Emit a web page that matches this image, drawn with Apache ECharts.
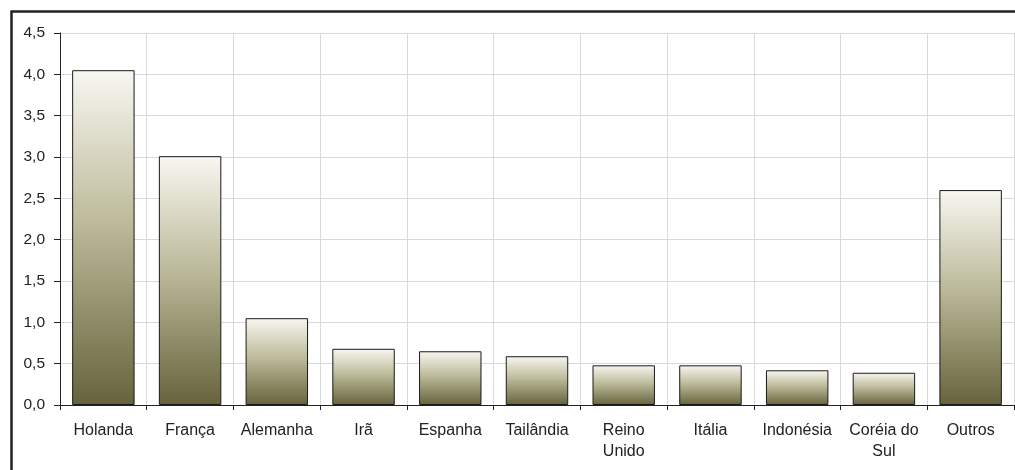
<!DOCTYPE html>
<html><head><meta charset="utf-8">
<script src="https://cdn.jsdelivr.net/npm/echarts@6/dist/echarts.min.js"></script>
<style>html,body{margin:0;padding:0;background:#fff}#c{width:1015px;height:470px}</style>
</head><body><div id="c"></div>
<script>
const categories = ['Holanda','França','Alemanha','Irã','Espanha','Tailândia','Reino\nUnido','Itália','Indonésia','Coréia do\nSul','Outros'];
const values = [4.05, 3.01, 1.05, 0.68, 0.65, 0.59, 0.48, 0.48, 0.42, 0.39, 2.60];
const yTicks = ['0,0','0,5','1,0','1,5','2,0','2,5','3,0','3,5','4,0','4,5'];

const chart = echarts.init(document.getElementById('c'), null, {renderer:'canvas'});
chart.setOption({
  animation:false,
  backgroundColor:'#fff',
  graphic:[{type:'rect',left:9,top:9,shape:{width:1020,height:480},style:{fill:'none',stroke:'#222',lineWidth:2.5},z:100}],
  grid:{left:60,right:1,top:33,bottom:65},
  xAxis:{type:'category',data:categories,boundaryGap:true,
    axisLine:{lineStyle:{color:'#222',width:1}},
    axisTick:{show:true,alignWithLabel:false,length:5,lineStyle:{color:'#222'}},
    splitLine:{show:true,interval:0,lineStyle:{color:'#d9d9d9',width:1}},
    axisLabel:{interval:0,color:'#222',fontFamily:'Liberation Sans',fontSize:16,lineHeight:21,margin:15}},
  yAxis:{type:'value',min:0,max:4.5,interval:0.5,
    axisLine:{show:true,lineStyle:{color:'#222'}},
    axisTick:{show:true,length:6,lineStyle:{color:'#222'}},
    splitLine:{show:true,lineStyle:{color:'#d9d9d9',width:1}},
    axisLabel:{color:'#222',fontFamily:'Liberation Sans',fontSize:15.5,margin:15,
      formatter:(v)=>yTicks[Math.round(v/0.5)]}},
  series:[{type:'bar',data:values,barCategoryGap:'28%',
    itemStyle:{borderColor:'#1a1a1a',borderWidth:1,
      color:new echarts.graphic.LinearGradient(0,0,0,1,[
        {offset:0,color:'#f8f7f1'},{offset:0.45,color:'#bdbb9b'},{offset:1,color:'#66633c'}])}}]
});
</script></body></html>
